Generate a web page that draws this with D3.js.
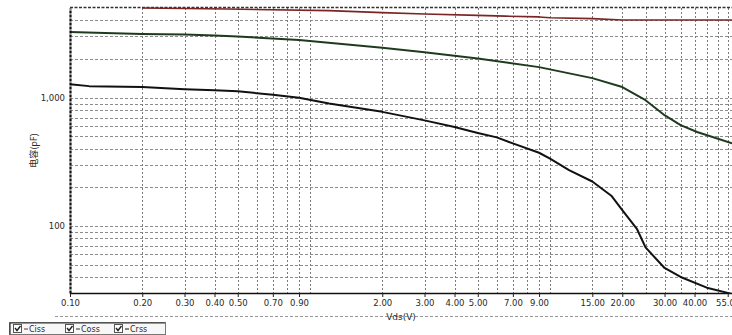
<!DOCTYPE html>
<html>
<head>
<meta charset="utf-8">
<script src="https://cdn.jsdelivr.net/npm/d3@7/dist/d3.min.js"></script>
<style>
  html, body { margin: 0; padding: 0; background: #fff; }
  svg { display: block; }
  text { font-family: "DejaVu Sans", "Liberation Sans", sans-serif; fill: #2a2a2a; }
</style>
</head>
<body>
<svg id="chart" width="732" height="335"></svg>
<script>
// Capacitance vs. drain-source voltage (log-log)
const xTickValues = [0.1, 0.2, 0.3, 0.4, 0.5, 0.7, 0.9, 2, 3, 4, 5, 7, 9, 15, 20, 30, 40, 55];
const xGridValues = [0.2, 0.3, 0.4, 0.5, 0.6, 0.7, 0.8, 0.9, 1, 2, 3, 4, 5, 6, 7, 8, 9, 10, 15, 20, 25, 30, 35, 40, 45, 50, 55];
const yTickValues = [100, 1000];
const yGridValues = [40, 50, 60, 70, 80, 90, 100, 200, 300, 400, 500, 600, 700, 800, 900, 1000, 2000, 3000, 4000];

const cissVds = [0.2, 0.45, 1.2, 2, 3, 5, 6.5, 9, 10, 15, 20, 57.3];
const cissPf  = [5000, 4910, 4770, 4600, 4490, 4380, 4320, 4260, 4200, 4130, 4030, 4030];

const cossVds = [0.1, 0.14, 0.2, 0.3, 0.4, 0.5, 0.9, 2, 3, 5, 9, 15, 20, 25, 30, 35, 41, 57.3];
const cossPf  = [3250, 3190, 3135, 3105, 3050, 3000, 2810, 2450, 2255, 2020, 1730, 1420, 1210, 955, 730, 610, 540, 440];

const crssVds = [0.1, 0.12, 0.2, 0.3, 0.4, 0.5, 0.7, 0.9, 1.2, 2, 3, 4, 5, 6, 7, 9, 10, 12, 15, 18, 20, 23, 25, 30, 35, 45, 57.3];
const crssPf  = [1275, 1230, 1210, 1165, 1140, 1120, 1055, 1000, 900, 775, 665, 590, 530, 490, 440, 372, 335, 272, 222, 172, 133, 95, 68, 47, 40, 33, 29.5];

const seriesNames = ["Ciss", "Coss", "Crss"];
const seriesColors = ["#7a2424", "#1f3b1f", "#111111"];

(function draw() {
  const seriesData = [
    cissVds.map((v, i) => [v, cissPf[i]]),
    cossVds.map((v, i) => [v, cossPf[i]]),
    crssVds.map((v, i) => [v, crssPf[i]])
  ];

  const pLeft = 70, pRight = 732, pTop = 8, pBottom = 293;
  const svg = d3.select("#chart");

  const x = d3.scaleLog().domain([0.1, 57.3]).range([pLeft, pRight]);
  const y = d3.scaleLog().domain([30, 5000]).range([pBottom, pTop]);

  svg.append("rect").attr("width", 732).attr("height", 335).attr("fill", "#fff");

  svg.append("defs").append("clipPath").attr("id", "plot")
    .append("rect").attr("x", pLeft).attr("y", pTop - 1).attr("width", pRight - pLeft).attr("height", pBottom - pTop + 1);

  // grid
  const grid = svg.append("g");
  grid.selectAll("line.h").data(yGridValues).join("line").attr("class", "h")
    .attr("x1", pLeft).attr("x2", pRight)
    .attr("y1", d => Math.round(y(d)) + 0.5).attr("y2", d => Math.round(y(d)) + 0.5)
    .attr("stroke", "#8c8c8c").attr("stroke-width", 1).attr("stroke-dasharray", "3,2");
  grid.selectAll("line.v").data(xGridValues).join("line").attr("class", "v")
    .attr("x1", d => Math.round(x(d)) + 0.5).attr("x2", d => Math.round(x(d)) + 0.5)
    .attr("y1", pTop).attr("y2", pBottom)
    .attr("stroke", "#7a7a7a").attr("stroke-width", 1).attr("stroke-dasharray", "2,2");

  // top border
  svg.append("line").attr("x1", pLeft).attr("x2", pRight).attr("y1", pTop - 0.5).attr("y2", pTop - 0.5)
    .attr("stroke", "#333").attr("stroke-width", 1.3).attr("stroke-dasharray", "3,1.5");

  // curves
  const line = d3.line().x(d => x(d[0])).y(d => y(d[1]));
  svg.append("g").attr("clip-path", "url(#plot)")
    .selectAll("path").data(seriesData).join("path")
    .attr("d", line)
    .attr("fill", "none")
    .attr("stroke", (d, i) => seriesColors[i])
    .attr("stroke-width", (d, i) => i === 0 ? 1.6 : 2)
    .attr("stroke-linejoin", "round");

  // x axis
  const xAxis = svg.append("g").attr("transform", `translate(0,${pBottom})`)
    .call(d3.axisBottom(x).tickValues(xTickValues).tickFormat(d3.format(".2f")).tickSize(4).tickSizeOuter(0).tickPadding(3));
  xAxis.select(".domain").attr("stroke", "#111").attr("stroke-width", 1.6);
  xAxis.selectAll(".tick line").attr("stroke", "#222");
  xAxis.selectAll(".tick text").style("font-size", "8.5px").attr("fill", "#2a2a2a");

  // y axis
  const yAxis = svg.append("g").attr("transform", `translate(${pLeft},0)`)
    .call(d3.axisLeft(y).tickValues(yTickValues).tickFormat(d3.format(",")).tickSize(0).tickPadding(5));
  yAxis.select(".domain").attr("stroke", "#111").attr("stroke-width", 2.2).attr("stroke-dasharray", "3,1");
  yAxis.selectAll(".tick text").style("font-size", "8.5px").attr("fill", "#2a2a2a");

  // axis titles
  svg.append("line").attr("x1", 55).attr("x2", 732).attr("y1", 316.5).attr("y2", 316.5)
    .attr("stroke", "#999").attr("stroke-dasharray", "3,2");
  svg.append("text").attr("x", 401).attr("y", 320).attr("text-anchor", "middle")
    .style("font-size", "9px").text("Vds(V)");
  svg.append("text")
    .attr("transform", `translate(37,${(pTop + pBottom) / 2}) rotate(-90)`)
    .attr("text-anchor", "middle")
    .style("font-family", "'Noto Sans CJK SC', sans-serif").style("font-size", "9px")
    .text("电容(pF)");

  // legend
  const lg = svg.append("g");
  lg.append("rect").attr("x", 9.5).attr("y", 322.5).attr("width", 156).attr("height", 12)
    .attr("fill", "#f7f7f7").attr("stroke", "#777");
  lg.append("path").attr("d", "M10,334.5 V323 H165").attr("fill", "none").attr("stroke", "#333").attr("stroke-width", 1.2);
  const itemX = [13, 65, 114];
  const items = lg.selectAll("g.item").data(seriesNames).join("g").attr("class", "item")
    .attr("transform", (d, i) => `translate(${itemX[i]},324)`);
  items.append("rect").attr("x", 0.5).attr("y", 0.5).attr("width", 8).attr("height", 8)
    .attr("fill", "#fff").attr("stroke", "#555");
  items.append("path").attr("d", "M2,4 L4,6.5 L7.5,2").attr("fill", "none").attr("stroke", "#222").attr("stroke-width", 1.4);
  items.append("line").attr("x1", 11).attr("x2", 15).attr("y1", 5).attr("y2", 5)
    .attr("stroke", (d, i) => seriesColors[i]).attr("stroke-width", 1);
  items.append("text").attr("x", 16).attr("y", 8).style("font-size", "8px").text(d => d);
})();
</script>
</body>
</html>
